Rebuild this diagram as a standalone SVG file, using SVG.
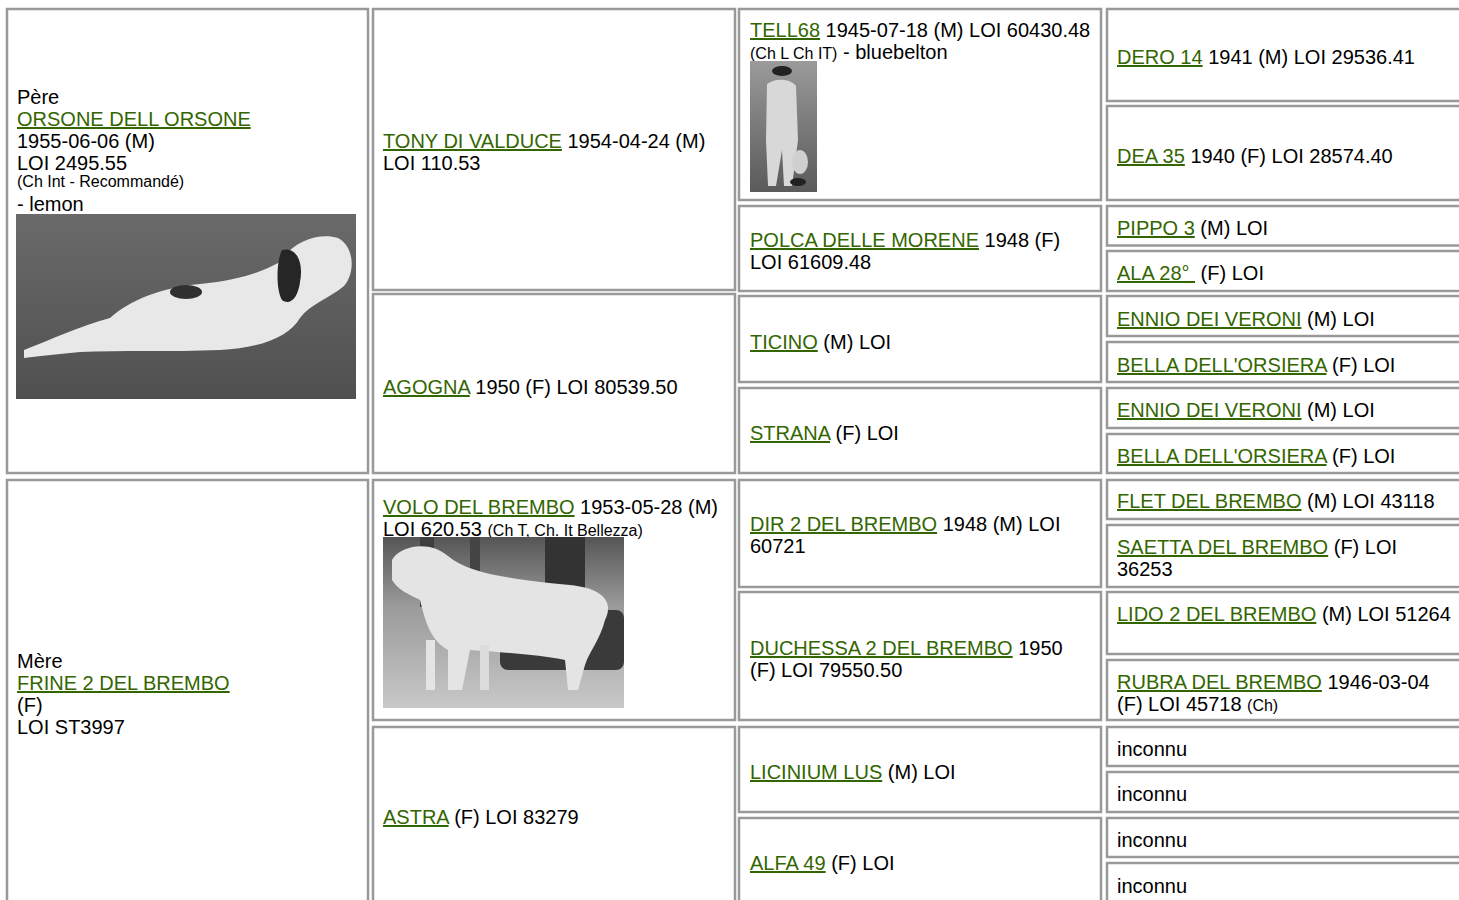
<svg xmlns="http://www.w3.org/2000/svg" width="1459" height="900" viewBox="0 0 1459 900">
<style>
.c{fill:#fff;stroke:#999;stroke-width:2.5}
text{font-family:"Liberation Sans",Arial,sans-serif;font-size:20px;fill:#000}
.l{fill:#336600;text-decoration:underline}
.s{font-size:16px}
</style>
<defs>
<linearGradient id="g1" x1="0" y1="0" x2="0" y2="1"><stop offset="0" stop-color="#6a6a6a"/><stop offset="1" stop-color="#505050"/></linearGradient>
<linearGradient id="g2" x1="0" y1="0" x2="0" y2="1"><stop offset="0" stop-color="#9a9a9a"/><stop offset="1" stop-color="#5a5a5a"/></linearGradient>
<linearGradient id="g3" x1="0" y1="0" x2="0" y2="1"><stop offset="0" stop-color="#555"/><stop offset="0.4" stop-color="#9a9a9a"/><stop offset="1" stop-color="#c8c8c8"/></linearGradient>
</defs>
<rect width="1459" height="900" fill="#fff"/>

<g id="sire">
<rect class="c" x="7" y="9" width="361" height="464"/>
<text x="17" y="104">Père</text>
<text x="17" y="126" class="l">ORSONE DELL ORSONE</text>
<text x="17" y="148">1955-06-06 (M)</text>
<text x="17" y="170">LOI 2495.55</text>
<text x="17" y="187" class="s">(Ch Int - Recommandé)</text>
<text x="17" y="211">- lemon</text>
<g id="photo-orsone">
<rect x="16" y="214" width="340" height="185" fill="url(#g1)"/>
<path d="M24 350 C50 340 80 326 110 318 C130 300 160 288 200 284 C240 280 262 272 280 262 C292 242 318 232 338 238 C354 246 356 272 344 286 C330 298 310 304 300 318 C290 336 262 348 220 350 C170 352 120 350 80 352 C60 354 40 356 24 358 Z" fill="#e8e8e8"/>
<path d="M282 250 C296 246 304 262 300 282 C298 298 290 306 282 300 C276 290 276 262 282 250 Z" fill="#262626"/>
<ellipse cx="186" cy="292" rx="16" ry="7" fill="#303030"/>
</g>
</g>

<g id="dam">
<rect class="c" x="7" y="480" width="361" height="440"/>
<text x="17" y="668">Mère</text>
<text x="17" y="690" class="l">FRINE 2 DEL BREMBO</text>
<text x="17" y="712">(F)</text>
<text x="17" y="734">LOI ST3997</text>
</g>

<g id="tony">
<rect class="c" x="373" y="9" width="362" height="281"/>
<text x="383" y="148"><tspan class="l">TONY DI VALDUCE</tspan> 1954-04-24 (M)</text>
<text x="383" y="170">LOI 110.53</text>
</g>
<g id="agogna">
<rect class="c" x="373" y="294" width="362" height="179"/>
<text x="383" y="394"><tspan class="l">AGOGNA</tspan> 1950 (F) LOI 80539.50</text>
</g>
<g id="volo">
<rect class="c" x="373" y="480" width="362" height="240"/>
<text x="383" y="514"><tspan class="l">VOLO DEL BREMBO</tspan> 1953-05-28 (M)</text>
<text x="383" y="536">LOI 620.53 <tspan class="s">(Ch T, Ch. It Bellezza)</tspan></text>
<g id="photo-volo">
<rect x="383" y="537" width="241" height="171" fill="url(#g3)"/>
<rect x="420" y="537" width="14" height="70" fill="#3e3e3e"/>
<rect x="470" y="537" width="10" height="70" fill="#444"/>
<rect x="545" y="537" width="40" height="65" fill="#333"/>
<rect x="500" y="610" width="124" height="60" rx="8" fill="#3a3a3a"/>
<path d="M392 560 C400 545 430 540 448 556 C470 575 520 580 570 585 C600 588 615 600 605 620 C600 640 590 650 585 665 L578 690 L568 690 L565 660 C540 655 500 652 470 650 L462 690 L448 690 L448 650 C430 640 425 620 420 600 C410 595 398 590 392 580 Z" fill="#e4e4e4"/>
<rect x="426" y="640" width="9" height="50" fill="#e4e4e4"/>
<rect x="480" y="645" width="9" height="45" fill="#dcdcdc"/>
</g>
</g>
<g id="astra">
<rect class="c" x="373" y="727" width="362" height="193"/>
<text x="383" y="824"><tspan class="l">ASTRA</tspan> (F) LOI 83279</text>
</g>

<g id="tell68">
<rect class="c" x="739" y="9" width="362" height="191"/>
<text x="750" y="37"><tspan class="l">TELL68</tspan> 1945-07-18 (M) LOI 60430.48</text>
<text x="750" y="59"><tspan class="s">(Ch L Ch IT)</tspan> - bluebelton</text>
<g id="photo-tell">
<rect x="750" y="61" width="67" height="131" fill="url(#g2)"/>
<ellipse cx="782" cy="71" rx="10" ry="5" fill="#222"/>
<path d="M767 84 C775 78 790 78 796 86 L798 140 L792 186 L784 186 L782 150 L776 186 L768 186 L766 140 Z" fill="#d8d8d8"/>
<ellipse cx="800" cy="162" rx="8" ry="12" fill="#cfcfcf"/>
<ellipse cx="798" cy="182" rx="8" ry="4" fill="#222"/>
</g>
</g>
<g id="polca">
<rect class="c" x="739" y="206" width="362" height="85"/>
<text x="750" y="247"><tspan class="l">POLCA DELLE MORENE</tspan> 1948 (F)</text>
<text x="750" y="269">LOI 61609.48</text>
</g>
<g id="ticino">
<rect class="c" x="739" y="296" width="362" height="86"/>
<text x="750" y="349"><tspan class="l">TICINO</tspan> (M) LOI</text>
</g>
<g id="strana">
<rect class="c" x="739" y="388" width="362" height="85"/>
<text x="750" y="440"><tspan class="l">STRANA</tspan> (F) LOI</text>
</g>
<g id="dir2">
<rect class="c" x="739" y="480" width="362" height="107"/>
<text x="750" y="531"><tspan class="l">DIR 2 DEL BREMBO</tspan> 1948 (M) LOI</text>
<text x="750" y="553">60721</text>
</g>
<g id="duchessa2">
<rect class="c" x="739" y="592" width="362" height="128"/>
<text x="750" y="655"><tspan class="l">DUCHESSA 2 DEL BREMBO</tspan> 1950</text>
<text x="750" y="677">(F) LOI 79550.50</text>
</g>
<g id="licinium">
<rect class="c" x="739" y="727" width="362" height="85"/>
<text x="750" y="779"><tspan class="l">LICINIUM LUS</tspan> (M) LOI</text>
</g>
<g id="alfa49">
<rect class="c" x="739" y="818" width="362" height="100"/>
<text x="750" y="870"><tspan class="l">ALFA 49</tspan> (F) LOI</text>
</g>

<g id="dero14"><rect class="c" x="1107" y="9" width="370" height="92"/>
<text x="1117" y="64"><tspan class="l">DERO 14</tspan> 1941 (M) LOI 29536.41</text></g>
<g id="dea35"><rect class="c" x="1107" y="106" width="370" height="94"/>
<text x="1117" y="163"><tspan class="l">DEA 35</tspan> 1940 (F) LOI 28574.40</text></g>
<g id="pippo3"><rect class="c" x="1107" y="206" width="370" height="39.5"/>
<text x="1117" y="235"><tspan class="l">PIPPO 3</tspan> (M) LOI</text></g>
<g id="ala28"><rect class="c" x="1107" y="251" width="370" height="40"/>
<text x="1117" y="280"><tspan class="l">ALA 28°&#160;</tspan> (F) LOI</text></g>
<g id="ennio1"><rect class="c" x="1107" y="296" width="370" height="40"/>
<text x="1117" y="326"><tspan class="l">ENNIO DEI VERONI</tspan> (M) LOI</text></g>
<g id="bella1"><rect class="c" x="1107" y="342" width="370" height="40"/>
<text x="1117" y="372"><tspan class="l">BELLA DELL'ORSIERA</tspan> (F) LOI</text></g>
<g id="ennio2"><rect class="c" x="1107" y="388" width="370" height="40"/>
<text x="1117" y="417"><tspan class="l">ENNIO DEI VERONI</tspan> (M) LOI</text></g>
<g id="bella2"><rect class="c" x="1107" y="434" width="370" height="39"/>
<text x="1117" y="463"><tspan class="l">BELLA DELL'ORSIERA</tspan> (F) LOI</text></g>
<g id="flet"><rect class="c" x="1107" y="480" width="370" height="39"/>
<text x="1117" y="508"><tspan class="l">FLET DEL BREMBO</tspan> (M) LOI 43118</text></g>
<g id="saetta"><rect class="c" x="1107" y="525" width="370" height="62"/>
<text x="1117" y="554"><tspan class="l">SAETTA DEL BREMBO</tspan> (F) LOI</text>
<text x="1117" y="576">36253</text></g>
<g id="lido2"><rect class="c" x="1107" y="592" width="370" height="62"/>
<text x="1117" y="621"><tspan class="l">LIDO 2 DEL BREMBO</tspan> (M) LOI 51264</text></g>
<g id="rubra"><rect class="c" x="1107" y="660" width="370" height="60"/>
<text x="1117" y="689"><tspan class="l">RUBRA DEL BREMBO</tspan> 1946-03-04</text>
<text x="1117" y="711">(F) LOI 45718 <tspan class="s">(Ch)</tspan></text></g>
<g id="unk1"><rect class="c" x="1107" y="727" width="370" height="39"/>
<text x="1117" y="756">inconnu</text></g>
<g id="unk2"><rect class="c" x="1107" y="772" width="370" height="40"/>
<text x="1117" y="801">inconnu</text></g>
<g id="unk3"><rect class="c" x="1107" y="818" width="370" height="39"/>
<text x="1117" y="847">inconnu</text></g>
<g id="unk4"><rect class="c" x="1107" y="863" width="370" height="60"/>
<text x="1117" y="893">inconnu</text></g>
<g id="connectors"/>
</svg>
